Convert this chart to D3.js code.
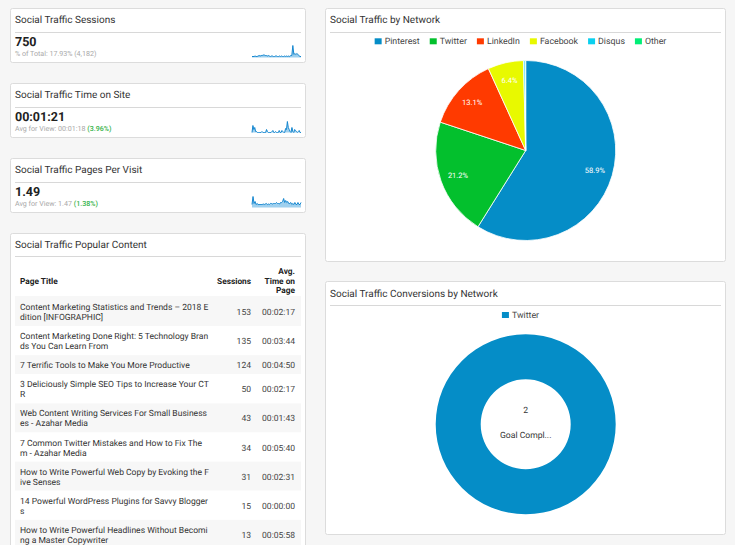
<!DOCTYPE html>
<html>
<head>
<meta charset="utf-8">
<script src="https://cdn.jsdelivr.net/npm/d3@7"></script>
<style>
  html, body { margin: 0; padding: 0; background: #f6f6f6; overflow: hidden; }
  svg { display: block; font-family: Roboto, sans-serif; text-rendering: geometricPrecision; }
</style>
</head>
<body>
<svg id="page" width="735" height="545"></svg>
<script>
// kpi cards
const kpiTitles = ["Social Traffic Sessions", "Social Traffic Time on Site", "Social Traffic Pages Per Visit"];
const kpiValues = ["750", "00:01:21", "1.49"];
const kpiNotes = ["% of Total: 17.93% (4,182)", "Avg for View: 00:01:18 ", "Avg for View: 1.47 "];
const kpiDeltas = ["", "(3.96%)", "(1.38%)"];

// sparklines
const sessionsSpark = [1,1,1,1.5,1,1,1.5,2,1.5,2,2,2.5,2.5,2,2,1.5,2,1.5,1,1.5,1.5,1,1,1.5,1.5,1,1,1.5,1,1.5,1,1,1.5,1,1.5,1,1.5,1,2,2,12,3,4,3,4,3,2,1,1];
const timeSpark = [0,7,3,5,1,1,0,0,0,0,0,1,0,0,0,0,3,1,0,0,0,0,1,2,0,0,1,0,0,0,2,0,0,2,1,0,0,4,3,11,5,3,1,0,5,1,0,3,2,1,0,1,2,0,0];
const pagesSpark = [3,11,4,6,3,4,3,3,3,3,3,3.5,3,3.5,4,3,3.5,3,4,4,3.5,4,4,4,5,4,4,3.5,5,5,6,9,5,7,5,6,4,4,5,3,4,3,5,3,3,5,3,3,5];

// table
const tableHeaders = ["Page Title", "Sessions", ["Avg.", "Time on", "Page"]];
const pageTitles = [
  ["Content Marketing Statistics and Trends – 2018 E", "dition [INFOGRAPHIC]"],
  ["Content Marketing Done Right: 5 Technology Bran", "ds You Can Learn From"],
  ["7 Terrific Tools to Make You More Productive"],
  ["3 Deliciously Simple SEO Tips to Increase Your CT", "R"],
  ["Web Content Writing Services For Small Business", "es - Azahar Media"],
  ["7 Common Twitter Mistakes and How to Fix The", "m - Azahar Media"],
  ["How to Write Powerful Web Copy by Evoking the F", "ive Senses"],
  ["14 Powerful WordPress Plugins for Savvy Blogger", "s"],
  ["How to Write Powerful Headlines Without Becomi", "ng a Master Copywriter"]
];
const pageSessions = [153, 135, 124, 50, 43, 34, 31, 15, 13];
const pageTimes = ["00:02:17", "00:03:44", "00:04:50", "00:02:17", "00:01:43", "00:05:40", "00:02:31", "00:00:00", "00:05:58"];

// pie and donut
const networks = ["Pinterest", "Twitter", "LinkedIn", "Facebook", "Disqus", "Other"];
const networkShares = [58.9, 21.2, 13.1, 6.4, 0.3, 0.1];
const networkColors = ["#058dc7", "#03c02d", "#ff3a00", "#e8f900", "#0ad0ef", "#00ee76"];
const conversionNetworks = ["Twitter"];
const conversionValues = [2];
const conversionLabel = "Goal Compl...";

const svg = d3.select("#page");
const color = d3.scaleOrdinal(networks, networkColors);

function card(x, y, w, h, title, titleY = 15) {
  const g = svg.append("g").attr("transform", `translate(${x},${y})`);
  g.append("rect")
    .attr("x", 0.5).attr("y", 0.5)
    .attr("width", w - 1).attr("height", h - 1)
    .attr("rx", 2)
    .attr("fill", "#fff")
    .attr("stroke", "#dcdcdc");
  g.append("text")
    .attr("x", 5).attr("y", titleY)
    .attr("font-size", 10)
    .attr("fill", "#333")
    .text(title);
  return g;
}

function legend(g, names, cx, y) {
  const row = g.append("g");
  let pos = 0;
  names.forEach(name => {
    const item = row.append("g").attr("transform", `translate(${pos},0)`);
    item.append("rect")
      .attr("y", y - 6).attr("width", 7).attr("height", 6)
      .attr("fill", names.length === 1 ? networkColors[0] : color(name));
    const t = item.append("text")
      .attr("x", 10).attr("y", y)
      .attr("font-size", 8.8)
      .attr("fill", "#444")
      .text(name);
    pos += 10 + t.node().getComputedTextLength() + 10;
  });
  row.attr("transform", `translate(${cx - (pos - 10) / 2},0)`);
}

// KPI cards
const sparkData = [sessionsSpark, timeSpark, pagesSpark];
const kpiY = [8, 83, 158];
kpiTitles.forEach((title, i) => {
  const g = card(10, kpiY[i], 296, 55, title);
  g.append("line")
    .attr("x1", 5).attr("x2", 291)
    .attr("y1", 24.5).attr("y2", 24.5)
    .attr("stroke", "#d8d8d8");
  g.append("text")
    .attr("x", 5).attr("y", 37.5)
    .attr("font-size", 12.5)
    .attr("font-weight", 700)
    .attr("fill", "#212121")
    .text(kpiValues[i]);
  const note = g.append("text")
    .attr("x", 5).attr("y", 48)
    .attr("font-size", 7.1)
    .attr("fill", "#a8a8a8")
    .text(kpiNotes[i]);
  note.append("tspan")
    .attr("fill", "#35b34a")
    .attr("font-weight", 500)
    .text(kpiDeltas[i]);

  const values = sparkData[i];
  const x = d3.scaleLinear().domain([0, values.length - 1]).range([242, 291]);
  const y = d3.scaleLinear().domain([0, 12]).range([49.5, 37.5]);
  g.append("path")
    .datum(values)
    .attr("fill", "#9fd0ee")
    .attr("d", d3.area().x((d, j) => x(j)).y0(y(0)).y1(d => y(d)));
  g.append("path")
    .datum(values)
    .attr("fill", "none")
    .attr("stroke", "#1587d0")
    .attr("stroke-width", 1)
    .attr("d", d3.line().x((d, j) => x(j)).y(d => y(d)));
});

// popular content table
const tableCard = card(10, 233, 296, 330, "Social Traffic Popular Content");
tableCard.append("line")
  .attr("x1", 5).attr("x2", 291)
  .attr("y1", 23.5).attr("y2", 23.5)
  .attr("stroke", "#d8d8d8");

const colTitle = 10, colSessions = 241, colTime = 285;
const head = tableCard.append("g")
  .attr("font-size", 8.3)
  .attr("font-weight", 700)
  .attr("fill", "#222");
head.append("text").attr("x", colTitle).attr("y", 50.5).text(tableHeaders[0]);
head.append("text").attr("x", colSessions).attr("y", 50.5).attr("text-anchor", "end").text(tableHeaders[1]);
tableHeaders[2].forEach((line, i) => {
  head.append("text")
    .attr("x", colTime).attr("y", 41 + i * 9.7)
    .attr("text-anchor", "end")
    .text(line);
});
tableCard.append("line")
  .attr("x1", 5).attr("x2", 291)
  .attr("y1", 64).attr("y2", 64)
  .attr("stroke", "#eeeeee");

let rowTop = 64;
pageTitles.forEach((lines, i) => {
  const h = lines.length === 2 ? 29.1 : 19.1;
  const row = tableCard.append("g").attr("transform", `translate(0,${rowTop})`);
  row.append("rect")
    .attr("x", 5).attr("width", 286).attr("height", h)
    .attr("fill", i % 2 === 0 ? "#f7f7f7" : "#fff");
  lines.forEach((line, j) => {
    row.append("text")
      .attr("x", colTitle).attr("y", h / 2 + 3.5 + (j - (lines.length - 1) / 2) * 10)
      .attr("font-size", 8.55)
      .attr("fill", "#333")
      .text(line);
  });
  row.append("text")
    .attr("x", colSessions).attr("y", h / 2 + 3.5)
    .attr("text-anchor", "end")
    .attr("font-size", 8.55)
    .attr("fill", "#444")
    .text(pageSessions[i]);
  row.append("text")
    .attr("x", colTime).attr("y", h / 2 + 3.5)
    .attr("text-anchor", "end")
    .attr("font-size", 8.55)
    .attr("fill", "#444")
    .text(pageTimes[i]);
  rowTop += h;
});

// pie by network
const pieCard = card(325, 8, 401, 254, "Social Traffic by Network");
pieCard.append("line")
  .attr("x1", 5).attr("x2", 396)
  .attr("y1", 24.5).attr("y2", 24.5)
  .attr("stroke", "#d8d8d8");
legend(pieCard, networks, 195.5, 36.3);

const pie = d3.pie().sort(null);
const pieArc = d3.arc().innerRadius(0).outerRadius(90);
const labelArc = d3.arc().innerRadius(72).outerRadius(72);
const pieG = pieCard.append("g").attr("transform", "translate(200.7,142.5)");
const slices = pie(networkShares);
pieG.selectAll("path")
  .data(slices)
  .join("path")
  .attr("d", pieArc)
  .attr("fill", (d, i) => color(networks[i]))
  .attr("stroke", "#fff")
  .attr("stroke-width", 0.8);
pieG.selectAll("text")
  .data(slices.filter(d => d.data > 1))
  .join("text")
  .attr("transform", d => `translate(${labelArc.centroid(d)})`)
  .attr("text-anchor", "middle")
  .attr("dy", 3)
  .attr("font-size", 7.5)
  .attr("fill", "#fff")
  .text(d => d.data.toFixed(1) + "%");

// conversions donut
const donutCard = card(325, 281, 401, 254, "Social Traffic Conversions by Network", 15.5);
donutCard.append("line")
  .attr("x1", 5).attr("x2", 396)
  .attr("y1", 24.5).attr("y2", 24.5)
  .attr("stroke", "#d8d8d8");
legend(donutCard, conversionNetworks, 195.5, 37);

const donutArc = d3.arc().innerRadius(45).outerRadius(90);
const donutG = donutCard.append("g").attr("transform", "translate(200.7,143.3)");
donutG.selectAll("path")
  .data(pie(conversionValues))
  .join("path")
  .attr("d", donutArc)
  .attr("fill", networkColors[0]);
donutG.append("text")
  .attr("y", -11)
  .attr("text-anchor", "middle")
  .attr("font-size", 8.6)
  .attr("fill", "#333")
  .text(conversionValues[0]);
donutG.append("text")
  .attr("y", 14)
  .attr("text-anchor", "middle")
  .attr("font-size", 8.6)
  .attr("fill", "#333")
  .text(conversionLabel);
</script>
</body>
</html>
